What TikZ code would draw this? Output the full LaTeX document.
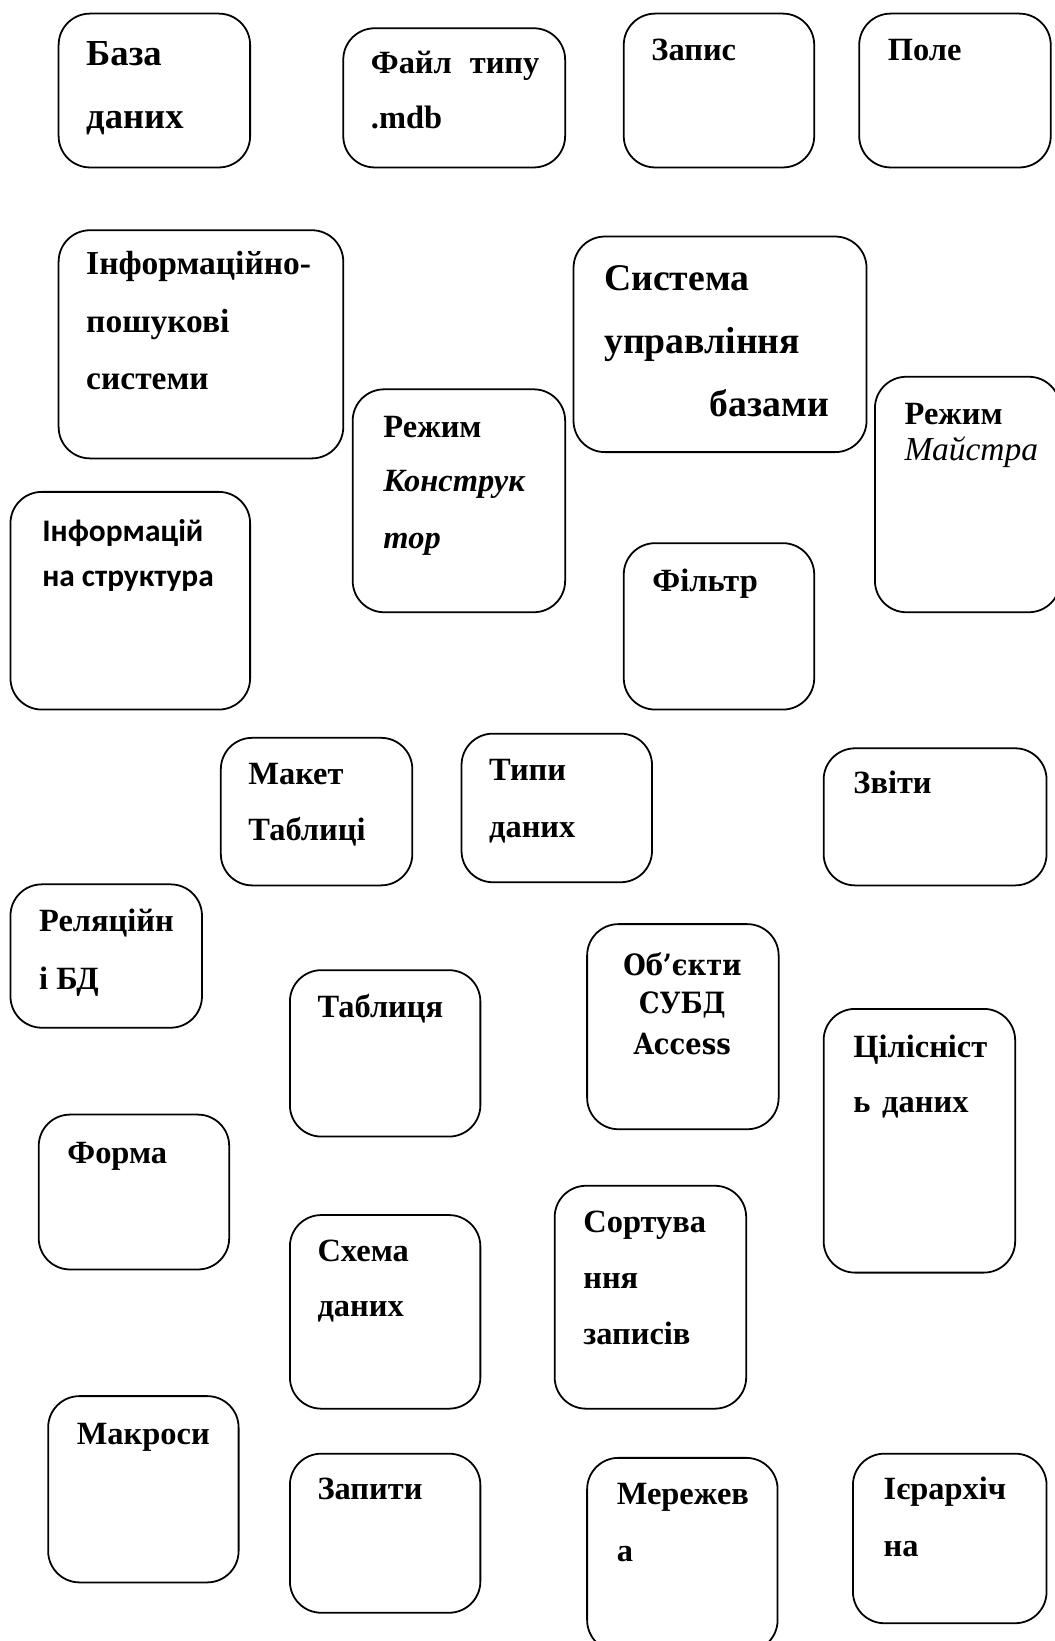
\documentclass[tikz,border=0pt]{standalone}
\usepackage{fontspec}
\setmainfont{Liberation Serif}
\newfontfamily\calfont{Carlito}
\newfontfamily\cambfont[FakeStretch=0.88]{DejaVu Serif}
\newcommand\rbox[5]{\node[bx, anchor=north west, minimum width={(#4-#2)*0.5pt}, minimum height={(#5-#3)*0.5pt}] (#1) at (#2,#3) {};}
\begin{document}
\begin{tikzpicture}[x=0.5pt,y=-0.5pt,
  bx/.style={draw, line width=0.85pt, rounded corners=15pt, inner sep=0pt, outer sep=0pt},
  tl/.style={anchor=base west, inner sep=0pt, font=\fontsize{15.5}{18}\selectfont\bfseries},
  tmid/.style={tl, font=\fontsize{16}{19}\selectfont\bfseries},
  tbig/.style={tl, font=\fontsize{17.5}{20}\selectfont\bfseries},
  tsys/.style={tl, font=\fontsize{18}{21}\selectfont\bfseries},
  tit/.style={tl, font=\fontsize{15.5}{18}\selectfont\bfseries\itshape},
  tmi/.style={tl, font=\fontsize{16}{19}\selectfont\itshape},
  tsans/.style={tl, font=\fontsize{15}{18}\selectfont\calfont\bfseries},
  tcamb/.style={anchor=base, inner sep=0pt, font=\fontsize{14}{17}\selectfont\cambfont\bfseries}]
\useasboundingbox (0,0) rectangle (1008,1568);
\clip (0,0) rectangle (1008,1568);
% boxes
\rbox{b1}{56}{13}{239}{160}
\rbox{b2}{328}{27}{540}{160}
\rbox{b3}{596}{13}{778}{160}
\rbox{b4}{821}{13}{1004}{160}
\rbox{b5}{56}{220}{328}{438}
\rbox{b6}{548}{226}{828}{432}
\rbox{b7}{337}{372}{540}{585}
\rbox{b8}{836}{360}{1013}{585}
\rbox{b9}{10}{470}{239}{678}
\rbox{b10}{596}{519}{778}{678}
\rbox{b11}{211}{705}{394}{846}
\rbox{b12}{441}{701}{623}{843}
\rbox{b13}{787}{715}{1000}{846}
\rbox{b14}{10}{845}{193}{982}
\rbox{b15}{277}{927}{459}{1086}
\rbox{b16}{561}{883}{744}{1079}
\rbox{b17}{787}{964}{970}{1216}
\rbox{b18}{37}{1065}{219}{1213}
\rbox{b19}{277}{1161}{459}{1346}
\rbox{b20}{530}{1133}{713}{1346}
\rbox{b21}{46}{1334}{228}{1512}
\rbox{b22}{277}{1389}{459}{1541}
\rbox{b23}{561}{1393}{743}{1578}
\rbox{b24}{815}{1389}{1000}{1551}
% texts
\node[tbig] (t1a) at (82,63) {База};
\node[tbig] (t1b) at (82,123) {даних};
\node[tl] (t2a) at (354,70) {\hbox to 80.5pt{Файл\hfill типу}};
\node[tl] (t2b) at (354,123) {.mdb};
\node[tl] (t3) at (622,58) {Запис};
\node[tl] (t4) at (848,58) {Поле};
\node[tmid] (t5a) at (82,262) {Інформаційно-};
\node[tmid] (t5b) at (82,318) {пошукові};
\node[tmid] (t5c) at (82,372) {системи};
\node[tsys] (t6a) at (577,278) {Система};
\node[tsys] (t6b) at (577,338) {управління};
\node[tsys] (t6c) at (678,398) {базами};
\node[tl] (t7a) at (366,418) {Режим};
\node[tit] (t7b) at (366,470) {Конструк};
\node[tit] (t7c) at (366,524) {тор};
\node[tl] (t8a) at (864,406) {Режим};
\node[tmi] (t8b) at (864,440) {Майстра};
\node[tsans] (t9a) at (40,517) {Інформацій};
\node[tsans] (t9b) at (40,560) {на структура};
\node[tl] (t10) at (623,565) {Фільтр};
\node[tl] (t11a) at (237,750) {Макет};
\node[tl] (t11b) at (237,803) {Таблиці};
\node[tl] (t12a) at (467,746) {Типи};
\node[tl] (t12b) at (467,800) {даних};
\node[tl] (t13) at (815,758) {Звіти};
\node[tl] (t14a) at (37,890) {Реляційн};
\node[tl] (t14b) at (37,945) {і БД};
\node[tl] (t15) at (303,972) {Таблиця};
\node[tcamb] (t16a) at (652,932) {Об’єкти};
\node[tcamb] (t16b) at (652,968) {СУБД};
\node[tcamb] (t16c) at (652,1008) {Access};
\node[tl] (t17a) at (815,1010) {Цілісніст};
\node[tl] (t17b) at (815,1063) {\hbox to 55pt{ь\hfill даних}};
\node[tl] (t18) at (64,1112) {Форма};
\node[tl] (t19a) at (303,1205) {Схема};
\node[tl] (t19b) at (303,1258) {даних};
\node[tl] (t20a) at (557,1178) {Сортува};
\node[tl] (t20b) at (557,1231) {ння};
\node[tl] (t20c) at (557,1285) {записів};
\node[tl] (t21) at (73,1380) {Макроси};
\node[tl] (t22) at (303,1433) {Запити};
\node[tl] (t23a) at (589,1438) {Мережев};
\node[tl] (t23b) at (589,1492) {а};
\node[tl] (t24a) at (844,1433) {Ієрархіч};
\node[tl] (t24b) at (844,1487) {на};
\end{tikzpicture}
\end{document}
